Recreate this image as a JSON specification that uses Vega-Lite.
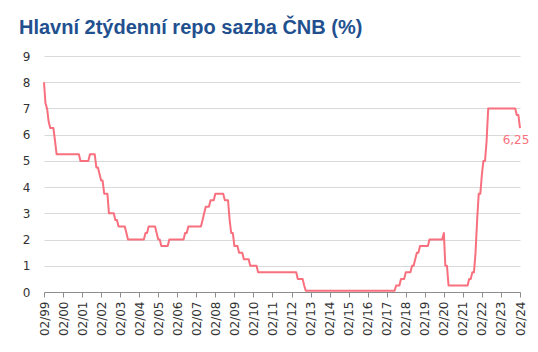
{
  "$schema": "https://vega.github.io/schema/vega-lite/v6.json",
  "width": 476,
  "height": 236,
  "autosize": {"type": "none"},
  "padding": {"left": 44, "top": 56, "right": 18, "bottom": 60},
  "background": "white",
  "config": {
    "view": {"stroke": null},
    "font": "DejaVu Sans",
    "locale": {"number": {"decimal": ",", "thousands": "\u00a0", "grouping": [3], "currency": ["", " Kč"]}}
  },
  "title": {
    "text": "Hlavní 2týdenní repo sazba ČNB (%)",
    "anchor": "start",
    "frame": "group",
    "font": "Liberation Sans",
    "fontSize": 20,
    "fontWeight": "bold",
    "color": "#22508f",
    "dx": -25,
    "offset": 12
  },
  "data": {
    "values": [
      {"date": "1999-02-01T00:00", "rate": 8.0},
      {"date": "1999-03-01T00:00", "rate": 7.2},
      {"date": "1999-04-01T00:00", "rate": 7.0},
      {"date": "1999-05-01T00:00", "rate": 6.5},
      {"date": "1999-06-01T00:00", "rate": 6.25},
      {"date": "1999-08-01T00:00", "rate": 6.25},
      {"date": "1999-09-01T00:00", "rate": 5.75},
      {"date": "1999-10-01T00:00", "rate": 5.25},
      {"date": "2000-12-01T00:00", "rate": 5.25},
      {"date": "2001-01-01T00:00", "rate": 5.0},
      {"date": "2001-06-01T00:00", "rate": 5.0},
      {"date": "2001-07-01T00:00", "rate": 5.25},
      {"date": "2001-10-01T00:00", "rate": 5.25},
      {"date": "2001-11-01T00:00", "rate": 4.75},
      {"date": "2001-12-01T00:00", "rate": 4.75},
      {"date": "2002-01-01T00:00", "rate": 4.5},
      {"date": "2002-02-01T00:00", "rate": 4.25},
      {"date": "2002-03-01T00:00", "rate": 4.25},
      {"date": "2002-04-01T00:00", "rate": 3.75},
      {"date": "2002-06-01T00:00", "rate": 3.75},
      {"date": "2002-07-01T00:00", "rate": 3.0},
      {"date": "2002-10-01T00:00", "rate": 3.0},
      {"date": "2002-11-01T00:00", "rate": 2.75},
      {"date": "2002-12-01T00:00", "rate": 2.75},
      {"date": "2003-01-01T00:00", "rate": 2.5},
      {"date": "2003-05-01T00:00", "rate": 2.5},
      {"date": "2003-06-01T00:00", "rate": 2.25},
      {"date": "2003-07-01T00:00", "rate": 2.0},
      {"date": "2004-05-01T00:00", "rate": 2.0},
      {"date": "2004-06-01T00:00", "rate": 2.25},
      {"date": "2004-07-01T00:00", "rate": 2.25},
      {"date": "2004-08-01T00:00", "rate": 2.5},
      {"date": "2004-12-01T00:00", "rate": 2.5},
      {"date": "2005-01-01T00:00", "rate": 2.25},
      {"date": "2005-02-01T00:00", "rate": 2.0},
      {"date": "2005-03-01T00:00", "rate": 2.0},
      {"date": "2005-04-01T00:00", "rate": 1.75},
      {"date": "2005-08-01T00:00", "rate": 1.75},
      {"date": "2005-09-01T00:00", "rate": 2.0},
      {"date": "2006-06-01T00:00", "rate": 2.0},
      {"date": "2006-07-01T00:00", "rate": 2.25},
      {"date": "2006-08-01T00:00", "rate": 2.25},
      {"date": "2006-09-01T00:00", "rate": 2.5},
      {"date": "2007-05-01T00:00", "rate": 2.5},
      {"date": "2007-06-01T00:00", "rate": 2.75},
      {"date": "2007-07-01T00:00", "rate": 3.0},
      {"date": "2007-08-01T00:00", "rate": 3.25},
      {"date": "2007-10-01T00:00", "rate": 3.25},
      {"date": "2007-11-01T00:00", "rate": 3.5},
      {"date": "2008-01-01T00:00", "rate": 3.5},
      {"date": "2008-02-01T00:00", "rate": 3.75},
      {"date": "2008-07-01T00:00", "rate": 3.75},
      {"date": "2008-08-01T00:00", "rate": 3.5},
      {"date": "2008-10-01T00:00", "rate": 3.5},
      {"date": "2008-11-01T00:00", "rate": 2.75},
      {"date": "2008-12-01T00:00", "rate": 2.25},
      {"date": "2009-01-01T00:00", "rate": 2.25},
      {"date": "2009-02-01T00:00", "rate": 1.75},
      {"date": "2009-04-01T00:00", "rate": 1.75},
      {"date": "2009-05-01T00:00", "rate": 1.5},
      {"date": "2009-07-01T00:00", "rate": 1.5},
      {"date": "2009-08-01T00:00", "rate": 1.25},
      {"date": "2009-11-01T00:00", "rate": 1.25},
      {"date": "2009-12-01T00:00", "rate": 1.0},
      {"date": "2010-04-01T00:00", "rate": 1.0},
      {"date": "2010-05-01T00:00", "rate": 0.75},
      {"date": "2012-05-01T00:00", "rate": 0.75},
      {"date": "2012-06-01T00:00", "rate": 0.5},
      {"date": "2012-09-01T00:00", "rate": 0.5},
      {"date": "2012-10-01T00:00", "rate": 0.25},
      {"date": "2012-11-01T00:00", "rate": 0.05},
      {"date": "2017-07-01T00:00", "rate": 0.05},
      {"date": "2017-08-01T00:00", "rate": 0.25},
      {"date": "2017-10-01T00:00", "rate": 0.25},
      {"date": "2017-11-01T00:00", "rate": 0.5},
      {"date": "2018-01-01T00:00", "rate": 0.5},
      {"date": "2018-02-01T00:00", "rate": 0.75},
      {"date": "2018-05-01T00:00", "rate": 0.75},
      {"date": "2018-06-01T00:00", "rate": 1.0},
      {"date": "2018-07-01T00:00", "rate": 1.0},
      {"date": "2018-08-01T00:00", "rate": 1.25},
      {"date": "2018-09-01T00:00", "rate": 1.5},
      {"date": "2018-10-01T00:00", "rate": 1.5},
      {"date": "2018-11-01T00:00", "rate": 1.75},
      {"date": "2019-04-01T00:00", "rate": 1.75},
      {"date": "2019-05-01T00:00", "rate": 2.0},
      {"date": "2020-01-01T00:00", "rate": 2.0},
      {"date": "2020-02-01T00:00", "rate": 2.25},
      {"date": "2020-03-01T00:00", "rate": 1.0},
      {"date": "2020-04-01T00:00", "rate": 1.0},
      {"date": "2020-05-01T00:00", "rate": 0.25},
      {"date": "2021-05-01T00:00", "rate": 0.25},
      {"date": "2021-06-01T00:00", "rate": 0.5},
      {"date": "2021-07-01T00:00", "rate": 0.5},
      {"date": "2021-08-01T00:00", "rate": 0.75},
      {"date": "2021-09-01T00:00", "rate": 0.75},
      {"date": "2021-10-01T00:00", "rate": 1.5},
      {"date": "2021-11-01T00:00", "rate": 2.75},
      {"date": "2021-12-01T00:00", "rate": 3.75},
      {"date": "2022-01-01T00:00", "rate": 3.75},
      {"date": "2022-02-01T00:00", "rate": 4.5},
      {"date": "2022-03-01T00:00", "rate": 5.0},
      {"date": "2022-04-01T00:00", "rate": 5.0},
      {"date": "2022-05-01T00:00", "rate": 5.75},
      {"date": "2022-06-01T00:00", "rate": 7.0},
      {"date": "2023-11-01T00:00", "rate": 7.0},
      {"date": "2023-12-01T00:00", "rate": 6.75},
      {"date": "2024-01-01T00:00", "rate": 6.75},
      {"date": "2024-02-01T00:00", "rate": 6.25}
    ]
  },
  "encoding": {
    "x": {
      "field": "date",
      "type": "temporal",
      "title": null,
      "scale": {"domain": [{"year": 1999, "month": 2, "date": 1}, {"year": 2024, "month": 2, "date": 1}], "nice": false},
      "axis": {
        "values": [
          {"year": 1999, "month": 2, "date": 1}, {"year": 2000, "month": 2, "date": 1}, {"year": 2001, "month": 2, "date": 1},
          {"year": 2002, "month": 2, "date": 1}, {"year": 2003, "month": 2, "date": 1}, {"year": 2004, "month": 2, "date": 1},
          {"year": 2005, "month": 2, "date": 1}, {"year": 2006, "month": 2, "date": 1}, {"year": 2007, "month": 2, "date": 1},
          {"year": 2008, "month": 2, "date": 1}, {"year": 2009, "month": 2, "date": 1}, {"year": 2010, "month": 2, "date": 1},
          {"year": 2011, "month": 2, "date": 1}, {"year": 2012, "month": 2, "date": 1}, {"year": 2013, "month": 2, "date": 1},
          {"year": 2014, "month": 2, "date": 1}, {"year": 2015, "month": 2, "date": 1}, {"year": 2016, "month": 2, "date": 1},
          {"year": 2017, "month": 2, "date": 1}, {"year": 2018, "month": 2, "date": 1}, {"year": 2019, "month": 2, "date": 1},
          {"year": 2020, "month": 2, "date": 1}, {"year": 2021, "month": 2, "date": 1}, {"year": 2022, "month": 2, "date": 1},
          {"year": 2023, "month": 2, "date": 1}, {"year": 2024, "month": 2, "date": 1}
        ],
        "format": "%m/%y",
        "labelAngle": 270,
        "labelAlign": "right",
        "labelBaseline": "middle",
        "labelFontSize": 12,
        "labelColor": "#333333",
        "labelPadding": 4,
        "labelOverlap": false,
        "labelFlush": false,
        "grid": false,
        "domainColor": "#8c8c8c",
        "tickColor": "#8c8c8c",
        "tickSize": 5
      }
    },
    "y": {
      "field": "rate",
      "type": "quantitative",
      "title": null,
      "scale": {"domain": [0, 9], "nice": false, "zero": true},
      "axis": {
        "values": [0, 1, 2, 3, 4, 5, 6, 7, 8, 9],
        "domain": false,
        "ticks": false,
        "labelPadding": 14,
        "labelFontSize": 12,
        "labelColor": "#333333",
        "gridColor": "#d9d9d9",
        "gridWidth": 1
      }
    }
  },
  "layer": [
    {
      "mark": {"type": "line", "color": "#f8707e", "strokeWidth": 2, "strokeJoin": "round"}
    },
    {
      "transform": [{"filter": "year(datum.date) == 2024 && month(datum.date) == 1"}],
      "mark": {"type": "text", "color": "#f8707e", "fontSize": 12, "align": "center", "baseline": "alphabetic", "dx": -4, "dy": 16},
      "encoding": {"text": {"field": "rate", "type": "quantitative", "format": ".2f"}}
    }
  ]
}
